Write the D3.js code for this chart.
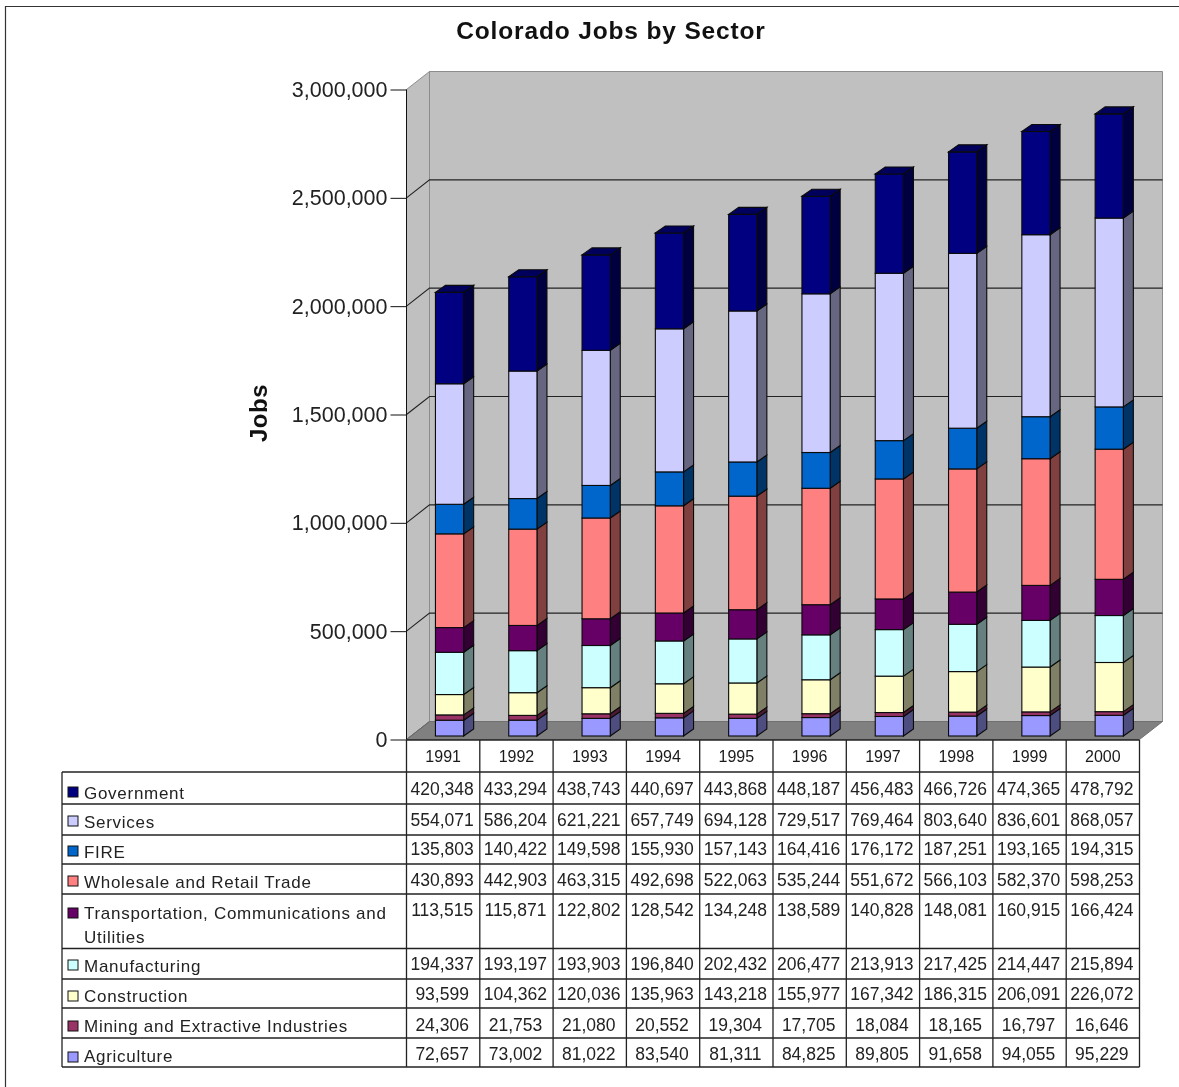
<!DOCTYPE html>
<html><head><meta charset="utf-8">
<script src="https://cdn.jsdelivr.net/npm/d3@7/dist/d3.min.js"></script>
<style>
html,body{margin:0;padding:0;background:#fff}
svg{display:block;filter:blur(0.45px)}
text{font-family:"Liberation Sans",Arial,sans-serif;fill:#1a1a1a}
</style></head><body>
<svg id="c" width="1179" height="1087"></svg>
<script>
const years = ["1991","1992","1993","1994","1995","1996","1997","1998","1999","2000"];
const agriculture = [72657,73002,81022,83540,81311,84825,89805,91658,94055,95229];
const mining = [24306,21753,21080,20552,19304,17705,18084,18165,16797,16646];
const construction = [93599,104362,120036,135963,143218,155977,167342,186315,206091,226072];
const manufacturing = [194337,193197,193903,196840,202432,206477,213913,217425,214447,215894];
const transportation = [113515,115871,122802,128542,134248,138589,140828,148081,160915,166424];
const wholesale = [430893,442903,463315,492698,522063,535244,551672,566103,582370,598253];
const fire = [135803,140422,149598,155930,157143,164416,176172,187251,193165,194315];
const services = [554071,586204,621221,657749,694128,729517,769464,803640,836601,868057];
const government = [420348,433294,438743,440697,443868,448187,456483,466726,474365,478792];
const seriesNames = ["Agriculture","Mining and Extractive Industries","Construction","Manufacturing","Transportation, Communications and Utilities","Wholesale and Retail Trade","FIRE","Services","Government"];
const seriesValues = [agriculture,mining,construction,manufacturing,transportation,wholesale,fire,services,government];
const seriesColors = ["#9999ff","#993366","#ffffcc","#ccffff","#660066","#ff8080","#0066cc","#ccccff","#000080"];
const yTicks = [0,500000,1000000,1500000,2000000,2500000,3000000];

const svg = d3.select("#c");
const fmt = d3.format(",");
const Y0 = 739.5, Y1 = 89.5, DX = 23, DY = -18, BDX = 10, BDY = -7, GX = 6.4, GY = -3.5;
const x = d3.scaleBand().domain(years).range([406.5,1139.5]);
const y = d3.scaleLinear().domain([0,3000000]).range([Y0,Y1]);
const yBar = d3.scaleLinear().domain([0,3000000]).range([Y0+GY,Y1+GY-2.6]);
const barW = x.bandwidth()*0.385;
const L = x.range()[0], R = x.range()[1];
const poly = pts => pts.map(p=>p.join(",")).join(" ");

// page frame
svg.append("path").attr("d","M5.5,1087V6.5H1179").attr("fill","none").attr("stroke","#333").attr("stroke-width",1.2);

// title
svg.append("text").attr("x",611).attr("y",39).attr("text-anchor","middle")
  .attr("font-size",24.5).attr("font-weight","bold").style("letter-spacing","0.85px").style("fill","#111").text("Colorado Jobs by Sector");
svg.append("text").attr("transform","translate(267,413) rotate(-90)").attr("text-anchor","middle")
  .attr("font-size",24).attr("font-weight","bold").style("letter-spacing","0.5px").style("fill","#111").text("Jobs");

// walls
const g3 = svg.append("g");
g3.append("polygon").attr("points",poly([[L+DX,Y1+DY],[R+DX,Y1+DY],[R+DX,Y0+DY],[L+DX,Y0+DY]])).attr("fill","#c0c0c0").attr("stroke","#8c8c8c");
g3.append("polygon").attr("points",poly([[L,Y1],[L+DX,Y1+DY],[L+DX,Y0+DY],[L,Y0]])).attr("fill","#c0c0c0").attr("stroke","#8c8c8c");
g3.append("polygon").attr("points",poly([[L,Y0],[L+DX,Y0+DY],[R+DX,Y0+DY],[R,Y0]])).attr("fill","#808080").attr("stroke","#707070");

// gridlines
yTicks.slice(1,-1).forEach(t=>{
  g3.append("path").attr("d",`M${L},${y(t)}L${L+DX},${y(t)+DY}H${R+DX}`).attr("fill","none").attr("stroke","#222").attr("stroke-width",1.1);
});
g3.append("path").attr("d",`M${L},${Y0}L${L+DX},${Y0+DY}`).attr("fill","none").attr("stroke","#666");

// axis
const ax = svg.append("g").attr("transform",`translate(${L},0)`)
  .call(d3.axisLeft(y).tickValues(yTicks).tickSize(16).tickPadding(3).tickFormat(fmt));
ax.selectAll("path,line").attr("stroke","#111");
ax.selectAll("text").attr("font-size",21.5).attr("font-family",null).style("fill","#222");
ax.select(".domain").attr("d",`M0,${Y1}V${Y0}`);

// stacked bars
const rows = years.map((yr,i)=>{const o={year:yr};seriesNames.forEach((n,j)=>o[n]=seriesValues[j][i]);return o;});
const stacked = d3.stack().keys(seriesNames)(rows);
const shade = (c,k)=>{const r=d3.rgb(c);return d3.rgb(r.r*k,r.g*k,r.b*k).formatHex();};
years.forEach((yr,i)=>{
  const bx = x(yr)+x.bandwidth()/2-barW/2+GX, bg = svg.append("g");
  stacked.forEach((s,j)=>{
    const yb=yBar(s[i][0]), yt=yBar(s[i][1]), c=seriesColors[j];
    bg.append("polygon").attr("points",poly([[bx+barW,yb],[bx+barW+BDX,yb+BDY],[bx+barW+BDX,yt+BDY],[bx+barW,yt]]))
      .attr("fill",shade(c,0.5)).attr("stroke","#0a0a0a").attr("stroke-width",1.1);
    bg.append("rect").attr("x",bx).attr("y",yt).attr("width",barW).attr("height",yb-yt)
      .attr("fill",c).attr("stroke","#0a0a0a").attr("stroke-width",1.1);
    if(j===stacked.length-1)
      bg.append("polygon").attr("points",poly([[bx,yt],[bx+BDX,yt+BDY],[bx+barW+BDX,yt+BDY],[bx+barW,yt]]))
        .attr("fill",shade(c,0.72)).attr("stroke","#0a0a0a").attr("stroke-width",1.1);
  });
});

// data table
const rowEdges = [772,804,835,864,894,948.5,979,1008,1038,1067];
const rowOrder = seriesNames.map((_,i)=>seriesNames.length-1-i);
const valueBase = [795,826,855,886,916,970,1000,1031,1060];
const labelBase = [[799],[828],[858],[888],[919,943],[972],[1002],[1032],[1062]];
const swatchMid = [792,821,851,881,913,965,996,1026,1057];
const table = svg.append("g");
const line = (x1,y1,x2,y2)=>table.append("line").attr("x1",x1).attr("y1",y1).attr("x2",x2).attr("y2",y2).attr("stroke","#222").attr("stroke-width",1.3);
const TL = 62;
rowEdges.forEach(e=>line(TL,e,R,e));
line(L,740,R,740);
line(TL,772,TL,1067);
years.forEach(yr=>line(x(yr),740,x(yr),1067));
line(R,740,R,1067);
years.forEach(yr=>table.append("text").attr("x",x(yr)+x.bandwidth()/2).attr("y",762).attr("text-anchor","middle").attr("font-size",16).text(yr));
svg.append("defs").append("clipPath").attr("id","tb").append("rect").attr("x",0).attr("y",0).attr("width",1179).attr("height",1065);
rowOrder.forEach((si,r)=>{
  table.append("rect").attr("x",68).attr("y",swatchMid[r]-5).attr("width",10).attr("height",10)
    .attr("fill",seriesColors[si]).attr("stroke","#111");
  const ll = si===4 ? ["Transportation, Communications and","Utilities"] : [seriesNames[si]];
  ll.forEach((t,k)=>table.append("text").attr("x",84).attr("y",labelBase[r][k]).attr("font-size",17)
    .attr("clip-path","url(#tb)").style("letter-spacing","0.72px").style("fill","#222").text(t));
  years.forEach((yr,i)=>table.append("text").attr("x",x(yr)+x.bandwidth()/2-1).attr("y",valueBase[r])
    .attr("text-anchor","middle").attr("font-size",17.5).style("fill","#222").text(fmt(seriesValues[si][i])));
});
</script></body></html>
